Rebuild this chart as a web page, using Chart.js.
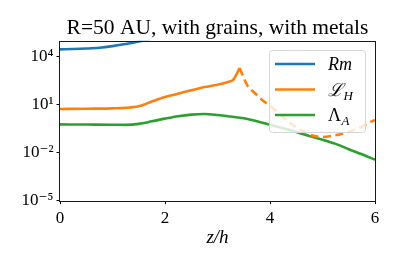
<!DOCTYPE html>
<html><head><meta charset="utf-8">
<script src="https://cdn.jsdelivr.net/npm/chart.js@4/dist/chart.umd.min.js"></script>
<style>html,body{margin:0;padding:0;background:#fff;overflow:hidden}canvas{display:block}</style>
</head><body>
<canvas id="c" width="399" height="266"></canvas>
<script>
// ---- text ----
const titleText = 'R=50 AU, with grains, with metals';
const xAxisLabel = 'z/h';
const legendMain = ['Rm', 'ℒ', 'Λ'];
const legendSub = ['', 'H', 'A'];

// ---- ticks ----
const xTickValues = [0, 2, 4, 6];
const xTickLabels = ['0', '2', '4', '6'];
const yTickValues = [1e-5, 1e-2, 1e1, 1e4];
const yTickLabels = ['10⁻⁵', '10⁻²', '10¹', '10⁴'];

// ---- data: Rm ----
const zRm = [0, 0.25, 0.5, 0.75, 1.0, 1.25, 1.5, 1.75, 2.0];
const rm  = [28800, 30200, 32400, 36300, 45700, 61700, 89100, 135000, 214000];

// ---- data: L_H (solid up to the peak, dashed after it) ----
const zLHsolid = [0, 0.5, 1.0, 1.25, 1.5, 1.75, 2.0, 2.25, 2.5, 2.75, 3.0, 3.2, 3.3, 3.36, 3.42];
const lhSolid  = [5.37, 5.62, 5.89, 6.31, 7.94, 15.8, 30.2, 49.0, 79.4, 126, 178, 263, 363, 759, 1950];
const zLHdashed = [3.42, 3.49, 3.56, 3.71, 3.85, 4.0, 4.19, 4.38, 4.57, 4.76, 4.99, 5.2, 5.43, 5.7, 5.94, 6.0];
const lhDashed  = [1950, 589, 178, 53.7, 20.0, 8.71, 2.51, 0.724, 0.282, 0.133, 0.0955, 0.115, 0.170, 0.355, 0.912, 1.10];

// ---- data: Lambda_A ----
const zLA = [0, 0.5, 1.0, 1.25, 1.5, 1.75, 2.0, 2.25, 2.5, 2.75, 3.0, 3.25, 3.5, 3.75, 4.0, 4.25, 4.5, 4.75, 5.0, 5.25, 5.5, 5.75, 6.0];
const la  = [0.589, 0.575, 0.562, 0.550, 0.631, 0.912, 1.35, 1.91, 2.40, 2.63, 2.29, 1.82, 1.41, 0.933, 0.562, 0.339, 0.195, 0.112, 0.0646, 0.0355, 0.0166, 0.00794, 0.00363];

const colors = ['#1f77b4', '#ff7f0e', '#2ca02c'];
const SERIF = "'Liberation Serif', 'DejaVu Serif', serif";

function pts(xs, ys) { return xs.map((x, i) => ({ x: x, y: ys[i] })); }

const titlePlugin = {
  id: 'axTitle',
  afterDraw(chart) {
    const ctx = chart.ctx, a = chart.chartArea;
    ctx.save();
    ctx.fillStyle = '#000';
    ctx.font = '21.5px ' + SERIF;
    ctx.textAlign = 'center';
    ctx.textBaseline = 'alphabetic';
    ctx.fillText(titleText, (a.left + a.right) / 2, a.top - 6.4);
    ctx.restore();
  }
};

const legendPlugin = {
  id: 'boxLegend',
  afterDatasetsDraw(chart) {
    const ctx = chart.ctx, a = chart.chartArea;
    const bw = 96, bh = 82;
    const bx = a.right - 10 - bw, by = a.top + 9.3;
    ctx.save();
    ctx.beginPath();
    if (ctx.roundRect) ctx.roundRect(bx + 0.5, by + 0.5, bw, bh, 3); else ctx.rect(bx + 0.5, by + 0.5, bw, bh);
    ctx.fillStyle = 'rgba(255,255,255,0.8)';
    ctx.fill();
    ctx.strokeStyle = '#d6d6d6';
    ctx.lineWidth = 1;
    ctx.stroke();
    for (let i = 0; i < 3; i++) {
      const y = by + 14 + i * 25.5;
      ctx.beginPath();
      ctx.moveTo(bx + 6, y); ctx.lineTo(bx + 46, y);
      ctx.strokeStyle = colors[i]; ctx.lineWidth = 2.6; ctx.setLineDash([]);
      ctx.stroke();
      ctx.fillStyle = '#000';
      ctx.textBaseline = 'alphabetic';
      ctx.textAlign = 'left';
      const mainStyle = (i === 2) ? '' : 'italic ';
      ctx.font = mainStyle + '18px ' + SERIF;
      const tx = bx + 59, ty = y + 6;
      ctx.fillText(legendMain[i], tx, ty);
      if (legendSub[i]) {
        const w = ctx.measureText(legendMain[i]).width;
        ctx.font = 'italic 13px ' + SERIF;
        ctx.fillText(legendSub[i], tx + w + 0.5, ty + 4);
      }
    }
    ctx.restore();
  }
};

const framePlugin = {
  id: 'frame',
  afterDraw(chart) {
    const ctx = chart.ctx, a = chart.chartArea;
    ctx.save();
    ctx.strokeStyle = '#1a1a1a';
    ctx.lineWidth = 1;
    ctx.strokeRect(Math.round(a.left) - 0.5, Math.round(a.top) + 0.5, Math.round(a.right - a.left) + 1, Math.round(a.bottom - a.top));
    ctx.restore();
  }
};

const lineCommon = { pointRadius: 0, borderWidth: 2.6, fill: false, cubicInterpolationMode: 'monotone' };

new Chart(document.getElementById('c'), {
  type: 'line',
  data: {
    datasets: [
      Object.assign({ label: 'Rm', data: pts(zRm, rm), borderColor: colors[0] }, lineCommon),
      Object.assign({ label: 'L_H', data: pts(zLHsolid, lhSolid), borderColor: colors[1] }, lineCommon),
      Object.assign({ label: 'L_H dashed', data: pts(zLHdashed, lhDashed), borderColor: colors[1], borderDash: [8, 4.5] }, lineCommon),
      Object.assign({ label: 'Lambda_A', data: pts(zLA, la), borderColor: colors[2] }, lineCommon)
    ]
  },
  options: {
    responsive: false,
    animation: false,
    devicePixelRatio: 1,
    layout: { padding: { left: 0, right: 24, top: 40.7, bottom: 0 } },
    plugins: {
      legend: { display: false },
      tooltip: { enabled: false },
      title: { display: false }
    },
    scales: {
      x: {
        type: 'linear', min: 0, max: 6,
        afterBuildTicks: s => { s.ticks = xTickValues.map(v => ({ value: v })); },
        afterFit: s => { s.height = 65.3; },
        ticks: { color: '#000', font: { family: SERIF, size: 17 }, padding: 4, maxRotation: 0,
                 callback: (v, i) => xTickLabels[i] },
        grid: { drawOnChartArea: false, drawTicks: true, tickLength: 3.5, color: '#000', lineWidth: 1 },
        border: { display: false },
        title: { display: true, text: xAxisLabel, color: '#000',
                 font: { family: SERIF, size: 19, style: 'italic' }, padding: { top: 0, bottom: 17 } }
      },
      y: {
        type: 'logarithmic', min: 1e-5, max: 1e5,
        afterBuildTicks: s => { s.ticks = yTickValues.map(v => ({ value: v })); },
        afterFit: s => { s.width = 60; },
        ticks: { color: '#000', font: { family: SERIF, size: 17 }, padding: 3,
                 callback: (v, i) => yTickLabels[i] },
        grid: { drawOnChartArea: false, drawTicks: true, tickLength: 3.5, color: '#000', lineWidth: 1 },
        border: { display: false }
      }
    }
  },
  plugins: [legendPlugin, framePlugin, titlePlugin]
});
</script>
</body></html>
